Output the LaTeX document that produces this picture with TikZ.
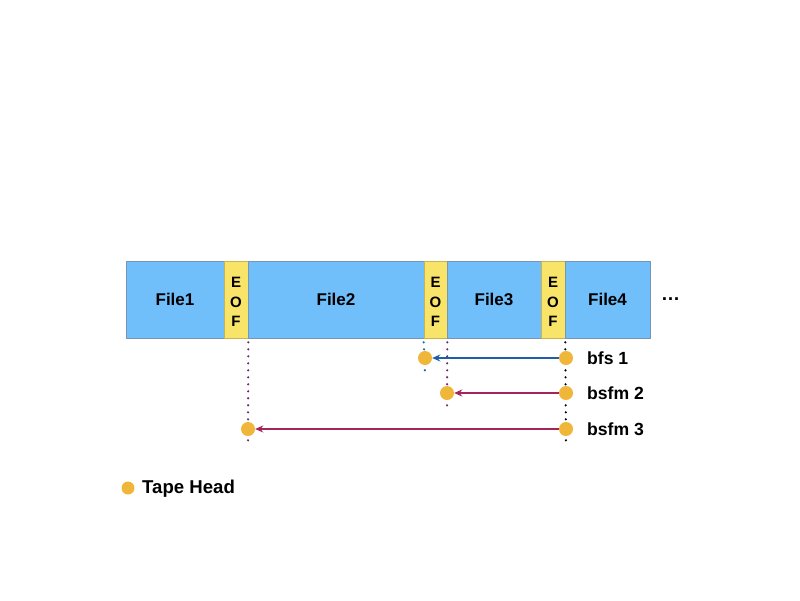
\documentclass[tikz,border=0pt]{standalone}
\usepackage{fontspec}
\setmainfont{Liberation Sans}
\usetikzlibrary{arrows.meta}
\definecolor{tapeblue}{RGB}{112,190,250}
\definecolor{tapeedge}{RGB}{120,150,180}
\definecolor{eofyellow}{RGB}{249,228,106}
\definecolor{eofedge}{RGB}{200,180,80}
\definecolor{headcol}{RGB}{240,182,58}
\definecolor{bluearrow}{RGB}{30,95,168}
\definecolor{magarrow}{RGB}{165,35,95}
\definecolor{purpdot}{RGB}{110,40,100}
\begin{document}
\begin{tikzpicture}[x=1pt,y=-1pt,
  filebox/.style={fill=tapeblue,draw=tapeedge,line width=0.6pt,minimum height=77pt,inner sep=0pt,
     font=\fontsize{17}{20}\selectfont\bfseries},
  eofbox/.style={fill=eofyellow,draw=eofedge,line width=0.6pt,minimum height=77pt,minimum width=24pt,inner sep=0pt},
  eoflbl/.style={inner sep=0pt,font=\fontsize{15}{19.5}\selectfont\bfseries,align=center},
  head/.style={circle,fill=headcol,inner sep=0pt,minimum size=14pt},
  lbl/.style={anchor=west,font=\fontsize{17.6}{20}\selectfont\bfseries,inner sep=0pt},
  dots/.style={line width=2.4pt,line cap=round,dash pattern=on 0pt off 7pt},
  arr/.style={-{Stealth[length=8pt,width=7pt]},line width=1.4pt}]
\useasboundingbox (0,0) rectangle (800,600);
% tape
\node[filebox,minimum width=98pt] (f1) at (175,299.5) {File1};
\node[eofbox] (e1) at (236,299.5) {};
\node[filebox,minimum width=176pt] (f2) at (336,299.5) {File2};
\node[eofbox,minimum width=23pt] (e2) at (435.5,299.5) {};
\node[filebox,minimum width=94pt] (f3) at (494,299.5) {File3};
\node[eofbox] (e3) at (553,299.5) {};
\node[filebox,minimum width=85pt] (f4) at (607.5,299.5) {File4};
\node[eoflbl] (t1) at ([yshift=-2.5pt]e1.center) {E\\O\\F};
\node[eoflbl] (t2) at ([yshift=-2.5pt]e2.center) {E\\O\\F};
\node[eoflbl] (t3) at ([yshift=-2.5pt]e3.center) {E\\O\\F};
\node[anchor=west,inner sep=0pt,font=\fontsize{19}{20}\selectfont\bfseries] (more) at (661,299) {\char"2026};
% coordinates of dotted lines
\coordinate (d1b) at (248,445);
\coordinate (d2b) at (425,373);
\coordinate (d3b) at (447,406);
\coordinate (d4b) at (566,445);
\draw[dots,purpdot] ([yshift=-4pt]e1.south east) -- (d1b);
\draw[dots,bluearrow] ([yshift=-4pt]e2.south west) -- (d2b);
\draw[dots,purpdot] ([yshift=-4pt]e2.south east) -- (d3b);
\draw[dots,black] ([yshift=-4pt]e3.south east) -- (d4b);
% heads
\node[head] (h1a) at (566,358) {};
\node[head] (h1b) at (425,358) {};
\node[head] (h2a) at (566,393) {};
\node[head] (h2b) at (447,393) {};
\node[head] (h3a) at (566,429) {};
\node[head] (h3b) at (248,429) {};
\draw[arr,bluearrow] (h1a) -- (h1b);
\draw[arr,magarrow] (h2a) -- (h2b);
\draw[arr,magarrow] (h3a) -- (h3b);
\node[lbl] (l1) at (587,358) {bfs 1};
\node[lbl] (l2) at (587,393) {bsfm 2};
\node[lbl] (l3) at (587,429) {bsfm 3};
% legend
\node[head,minimum size=13pt] (leg) at (128,488) {};
\node[lbl,font=\fontsize{18.6}{20}\selectfont\bfseries] (legt) at (142,488.5) {Tape Head};
\end{tikzpicture}
\end{document}
